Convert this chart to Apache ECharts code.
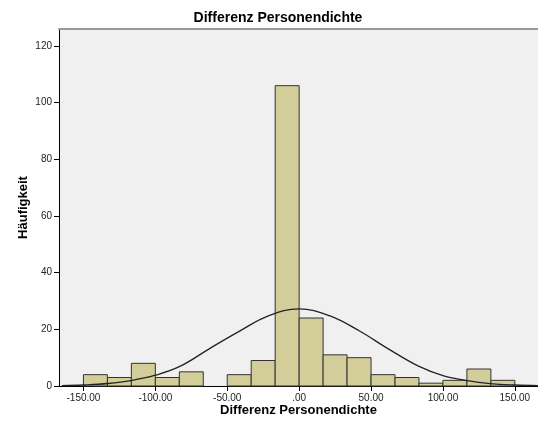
<!DOCTYPE html>
<html>
<head>
<meta charset="utf-8">
<script src="https://cdn.jsdelivr.net/npm/echarts@6/dist/echarts.min.js"></script>
<style>
  html, body { margin: 0; padding: 0; background: #fff; }
  #chart { width: 538px; height: 428px; }
</style>
</head>
<body>
<div id="chart"></div>
<script>
// Histogram bins: edges and counts (Häufigkeit)
const binEdges = [-150, -133.33, -116.67, -100, -83.33, -66.67, -50, -33.33, -16.67, 0,
                  16.67, 33.33, 50, 66.67, 83.33, 100, 116.67, 133.33, 150];
const binCounts = [4, 3, 8, 3, 5, 0, 4, 9, 106, 24, 11, 10, 4, 3, 1, 2, 6, 2];

// Fitted normal curve, sampled along the x axis
const curveX = [-165, -150, -133, -117, -100, -83, -62, -42, -21, 0, 21, 42, 62, 83, 100, 117, 133, 150, 166];
const curveY = [0.13, 0.35, 0.88, 1.9, 3.8, 6.9, 13.3, 19.2, 24.8, 27.2, 24.8, 19.4, 13.1, 7.0, 3.7, 1.9, 0.85, 0.35, 0.12];

// Axis ticks
const xTickValues = [-150, -100, -50, 0, 50, 100, 150];
const xTickLabels = ['-150.00', '-100.00', '-50.00', '.00', '50.00', '100.00', '150.00'];
const yTickValues = [0, 20, 40, 60, 80, 100, 120];

const titleText = 'Differenz Personendichte';
const xName = 'Differenz Personendichte';
const yName = 'Häufigkeit';

const barData = binCounts.map((c, i) => [binEdges[i], binEdges[i + 1], c]);
const curveData = curveX.map((x, i) => [x, curveY[i]]);

const FONT = 'Liberation Sans, Arial, sans-serif';
const X_MIN = -167, X_MAX = 166.1;
const chart = echarts.init(document.getElementById('chart'), null, { renderer: 'canvas' });

chart.setOption({
  animation: false,
  backgroundColor: '#ffffff',
  title: {
    text: titleText,
    left: 278,
    top: 11,
    padding: 0,
    textAlign: 'center',
    textStyle: { fontFamily: FONT, fontSize: 14, fontWeight: 'bold', color: '#000' }
  },
  grid: {
    left: 59, right: 0, top: 29, bottom: 42,
    show: true,
    backgroundColor: '#f0f0f0',
    borderWidth: 0
  },
  xAxis: [
    {
      type: 'value',
      min: X_MIN,
      max: X_MAX,
      name: xName,
      nameLocation: 'middle',
      nameGap: 18,
      nameMoveOverlap: false,
      nameTextStyle: { fontFamily: FONT, fontSize: 13, fontWeight: 'bold', color: '#000' },
      axisLine: { show: true, onZero: false, lineStyle: { color: '#000', width: 1 } },
      axisTick: { show: true, length: 5, customValues: xTickValues, lineStyle: { color: '#000' } },
      axisLabel: {
        customValues: xTickValues,
        margin: 7,
        fontFamily: FONT, fontSize: 10, color: '#222',
        formatter: v => xTickLabels[xTickValues.indexOf(v)]
      },
      splitLine: { show: false }
    },
    {
      // plain frame line along the top of the plot area
      type: 'value',
      position: 'top',
      min: X_MIN,
      max: X_MAX,
      axisLine: { show: true, onZero: false, lineStyle: { color: '#999999', width: 2 } },
      axisTick: { show: false },
      axisLabel: { show: false },
      splitLine: { show: false }
    }
  ],
  yAxis: {
    type: 'value',
    min: 0,
    max: 126,
    name: yName,
    nameLocation: 'middle',
    nameGap: 29,
    nameMoveOverlap: false,
    nameTextStyle: { fontFamily: FONT, fontSize: 13, fontWeight: 'bold', color: '#000' },
    axisLine: { show: true, onZero: false, lineStyle: { color: '#000', width: 1 } },
    axisTick: { show: true, length: 5, customValues: yTickValues, lineStyle: { color: '#000' } },
    axisLabel: { customValues: yTickValues, margin: 7, fontFamily: FONT, fontSize: 10, color: '#222' },
    splitLine: { show: false }
  },
  series: [
    {
      type: 'custom',
      data: barData,
      encode: { x: [0, 1], y: 2 },
      z: 2,
      renderItem: (params, api) => {
        const x0 = api.value(0), x1 = api.value(1), c = api.value(2);
        if (!c) return null;
        const p0 = api.coord([x0, c]);
        const p1 = api.coord([x1, 0]);
        return {
          type: 'rect',
          shape: { x: p0[0], y: p0[1], width: p1[0] - p0[0], height: p1[1] - p0[1] },
          style: { fill: '#d3ce99', stroke: '#333333', lineWidth: 1 }
        };
      }
    },
    {
      type: 'line',
      data: curveData,
      smooth: 0.4,
      symbol: 'none',
      z: 3,
      lineStyle: { color: '#222', width: 1.3 }
    }
  ]
});
</script>
</body>
</html>
